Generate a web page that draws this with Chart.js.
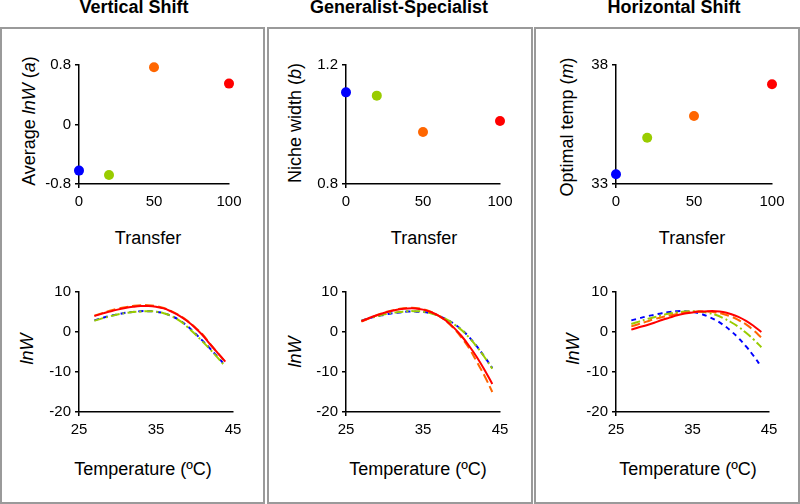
<!DOCTYPE html>
<html lang="en">
<head>
  <meta charset="UTF-8">
  <title>Vertical Shift / Generalist-Specialist / Horizontal Shift</title>
  <script src="https://cdn.jsdelivr.net/npm/chart.js"></script>
  <style>
    body { margin: 0; width: 800px; height: 504px; position: relative; overflow: hidden; background: #fff;
           font-family: "Liberation Sans", Arial, sans-serif; color: #000; }
    .panel { position: absolute; top: 27px; height: 477px; border: 2px solid #9a9a9a; box-sizing: border-box; }
    .head { position: absolute; top: -2px; font-size: 18px; line-height: 18px; font-weight: bold;
            transform: translateX(-50%); white-space: nowrap; }
    .xt { position: absolute; font-size: 18px; line-height: 18px; transform: translateX(-50%); white-space: nowrap; }
    .yt { position: absolute; font-size: 18px; line-height: 18px; white-space: nowrap;
          transform: translate(-50%, -50%) rotate(-90deg); }
    .box { position: absolute; }
  </style>
</head>
<body>
  <!-- panel frames -->
  <div class="panel" style="left:0; width:265px"></div>
  <div class="panel" style="left:267px; width:266px"></div>
  <div class="panel" style="left:534px; width:266px"></div>

  <div class="head" style="left:134px">Vertical Shift</div>
  <div class="head" style="left:399px">Generalist-Specialist</div>
  <div class="head" style="left:674px">Horizontal Shift</div>

  <!-- axis titles -->
  <div class="yt" style="left:29px; top:121px">Average <i>lnW</i> (<i>a</i>)</div>
  <div class="yt" style="left:295px; top:123px">Niche width (<i>b</i>)</div>
  <div class="yt" style="left:567px; top:127px">Optimal temp (<i>m</i>)</div>
  <div class="yt" style="left:27px; top:349px"><i>lnW</i></div>
  <div class="yt" style="left:295px; top:352px"><i>lnW</i></div>
  <div class="yt" style="left:573px; top:349px"><i>lnW</i></div>

  <div class="xt" style="left:148px; top:229px">Transfer</div>
  <div class="xt" style="left:424px; top:229px">Transfer</div>
  <div class="xt" style="left:692px; top:229px">Transfer</div>
  <div class="xt" style="left:143px; top:460px">Temperature (ºC)</div>
  <div class="xt" style="left:418px; top:460px">Temperature (ºC)</div>
  <div class="xt" style="left:688px; top:460px">Temperature (ºC)</div>

  <!-- charts -->
  <div class="box" style="left:29px; top:52px; width:220px; height:162px"><canvas id="vsTop"></canvas></div>
  <div class="box" style="left:296px; top:52px; width:224px; height:162px"><canvas id="gsTop"></canvas></div>
  <div class="box" style="left:566px; top:52px; width:226px; height:162px"><canvas id="hsTop"></canvas></div>
  <div class="box" style="left:29px; top:279px; width:224px; height:163px"><canvas id="vsBot"></canvas></div>
  <div class="box" style="left:296px; top:279px; width:224px; height:163px"><canvas id="gsBot"></canvas></div>
  <div class="box" style="left:566px; top:279px; width:223px; height:163px"><canvas id="hsBot"></canvas></div>

  <script>
    // transfer lines: blue, green, orange, red
    const transfer = [0, 20, 50, 100];
    const lineColors = ['#0000ff', '#99cc00', '#ff6600', '#ff0000'];
    const avgLnW = [-0.62, -0.68, 0.77, 0.55];
    const nicheWidth = [1.108, 1.097, 0.975, 1.012];
    const optimalTemp = [33.41, 34.94, 35.86, 37.19];

    const transferTicks = [0, 50, 100];
    const tempTicks = [25, 35, 45];
    const lnWTicks = [-20, -10, 0, 10];

    // fitted curves, lnW at 27..44 ºC
    const temps = [27, 28, 29, 30, 31, 32, 33, 34, 35, 36, 37, 38, 39, 40, 41, 42, 43, 44];

    const vsBlue   = [2.9, 3.5, 4.0, 4.4, 4.8, 5.0, 5.2, 5.2, 5.1, 4.7, 4.0, 3.0, 1.6, -0.2, -2.1, -4.1, -6.2, -8.4];
    const vsGreen  = [2.8, 3.4, 3.9, 4.4, 4.7, 5.0, 5.1, 5.2, 5.1, 4.7, 4.0, 2.9, 1.4, -0.4, -2.3, -4.3, -6.4, -8.6];
    const vsOrange = [4.1, 4.7, 5.3, 5.8, 6.2, 6.5, 6.7, 6.7, 6.5, 6.0, 5.2, 4.2, 2.9, 1.3, -0.5, -2.9, -5.2, -7.5];
    const vsRed    = [4.0, 4.6, 5.1, 5.6, 6.0, 6.3, 6.5, 6.5, 6.3, 5.9, 5.1, 4.1, 2.8, 1.2, -0.7, -3.0, -5.2, -7.4];

    const gsBlue   = [2.8, 3.4, 3.9, 4.3, 4.7, 4.9, 5.1, 5.1, 5.0, 4.7, 4.1, 3.2, 2.1, 0.6, -1.3, -3.6, -6.2, -9.0];
    const gsGreen  = [2.8, 3.4, 3.9, 4.4, 4.8, 5.0, 5.2, 5.2, 5.1, 4.7, 4.1, 3.2, 2.0, 0.5, -1.4, -3.7, -6.3, -9.2];
    const gsOrange = [2.6, 3.4, 4.2, 4.9, 5.4, 5.8, 6.0, 6.0, 5.7, 5.1, 4.1, 2.7, 0.9, -1.4, -4.1, -7.5, -11.0, -15.0];
    const gsRed    = [2.7, 3.5, 4.2, 4.8, 5.3, 5.7, 5.9, 5.9, 5.6, 5.0, 4.1, 2.8, 1.1, -1.0, -3.5, -6.3, -9.5, -13.0];

    const hsBlue   = [2.9, 3.4, 3.9, 4.3, 4.7, 5.0, 5.2, 5.2, 5.0, 4.6, 3.9, 3.0, 1.8, 0.3, -1.5, -3.6, -6.0, -8.7];
    const hsGreen  = [2.0, 2.6, 3.2, 3.7, 4.2, 4.6, 4.9, 5.1, 5.2, 5.1, 4.8, 4.3, 3.5, 2.5, 1.3, -0.2, -1.9, -3.8];
    const hsOrange = [1.4, 2.0, 2.6, 3.2, 3.7, 4.1, 4.5, 4.8, 5.0, 5.1, 5.1, 4.9, 4.5, 3.9, 3.0, 1.9, 0.4, -1.4];
    const hsRed    = [0.6, 1.2, 1.7, 2.3, 3.0, 3.6, 4.2, 4.6, 4.9, 5.1, 5.2, 5.2, 5.0, 4.5, 3.8, 2.8, 1.5, 0.0];

    const FONT = { family: '"Liberation Sans", Arial, sans-serif', size: 15 };

    function xScale(ticks) {
      return {
        type: 'linear', min: ticks[0], max: ticks[ticks.length - 1],
        afterBuildTicks: s => { s.ticks = ticks.map(v => ({ value: v })); },
        afterFit: s => { s.height = 30; },
        border: { display: true, color: '#000', width: 1.5 },
        grid: { drawOnChartArea: false, drawTicks: true, tickLength: 4, lineWidth: 1.5,
                color: c => c.index === 0 ? '#000' : 'rgba(0,0,0,0)' },
        ticks: { color: '#000', font: FONT, padding: 5, maxRotation: 0 }
      };
    }

    function yScale(ticks) {
      return {
        type: 'linear', min: ticks[0], max: ticks[ticks.length - 1],
        afterBuildTicks: s => { s.ticks = ticks.map(v => ({ value: v })); },
        afterFit: s => { s.width = 50; },
        border: { display: true, color: '#000', width: 1.5 },
        grid: { drawOnChartArea: false, drawTicks: true, tickLength: 4, lineWidth: 1.5, color: '#000' },
        ticks: { color: '#000', font: FONT, padding: 4, callback: v => String(Math.round(v * 10) / 10) }
      };
    }

    const baseOptions = (xs, ys) => ({
      responsive: true,
      maintainAspectRatio: false,
      animation: false,
      layout: { padding: { top: 10, right: 20, left: 0, bottom: 0 } },
      plugins: { legend: { display: false }, tooltip: { enabled: false } },
      scales: { x: xs, y: ys }
    });

    function scatterChart(id, values, yTicks) {
      new Chart(document.getElementById(id), {
        type: 'scatter',
        data: {
          datasets: [{
            data: transfer.map((t, i) => ({ x: t, y: values[i] })),
            pointRadius: 5,
            pointBorderWidth: 0,
            pointBackgroundColor: lineColors,
            clip: false
          }]
        },
        options: baseOptions(xScale(transferTicks), yScale(yTicks))
      });
    }

    function curve(values, color, dash) {
      return {
        data: temps.map((t, i) => ({ x: t, y: values[i] })),
        borderColor: color,
        borderWidth: 2,
        borderDash: dash,
        pointRadius: 0,
        tension: 0.4,
        fill: false,
        clip: false
      };
    }

    function curveChart(id, blue, green, orange, red) {
      new Chart(document.getElementById(id), {
        type: 'line',
        data: {
          datasets: [
            curve(red, lineColors[3], []),
            curve(orange, lineColors[2], [9, 4]),
            curve(green, lineColors[1], [9, 3, 2, 3]),
            curve(blue, lineColors[0], [5, 4])
          ]
        },
        options: baseOptions(xScale(tempTicks), yScale(lnWTicks))
      });
    }

    scatterChart('vsTop', avgLnW, [-0.8, 0, 0.8]);
    scatterChart('gsTop', nicheWidth, [0.8, 1.2]);
    scatterChart('hsTop', optimalTemp, [33, 38]);

    curveChart('vsBot', vsBlue, vsGreen, vsOrange, vsRed);
    curveChart('gsBot', gsBlue, gsGreen, gsOrange, gsRed);
    curveChart('hsBot', hsBlue, hsGreen, hsOrange, hsRed);
  </script>
</body>
</html>
